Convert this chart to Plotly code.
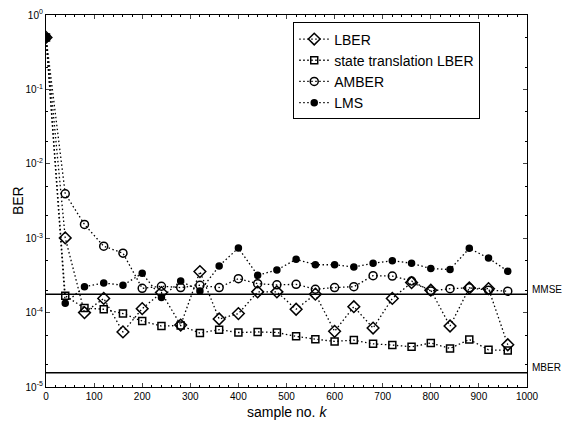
import math
import plotly.graph_objects as go

k = [0, 40, 80, 120, 160, 200, 240, 280, 320, 360, 400, 440, 480, 520,
     560, 600, 640, 680, 720, 760, 800, 840, 880, 920, 960]

lber = [0.5, 1.01e-3, 1.0e-4, 1.55e-4, 5.5e-5, 1.13e-4, 1.86e-4, 6.8e-5, 3.56e-4,
        8.2e-5, 9.7e-5, 1.9e-4, 1.9e-4, 1.11e-4, 1.77e-4, 5.6e-5, 1.2e-4, 6.2e-5,
        1.55e-4, 2.53e-4, 2.0e-4, 6.6e-5, 2.14e-4, 2.1e-4, 3.7e-5]

st_lber = [0.5, 1.68e-4, 1.15e-4, 1.11e-4, 9.7e-5, 7.7e-5, 6.6e-5, 6.7e-5, 5.3e-5,
           5.9e-5, 5.4e-5, 5.5e-5, 5.4e-5, 4.8e-5, 4.4e-5, 4.1e-5, 4.27e-5, 3.8e-5,
           3.66e-5, 3.47e-5, 3.9e-5, 3.3e-5, 4.35e-5, 3.16e-5, 3.1e-5]

amber = [0.5, 3.95e-3, 1.53e-3, 7.8e-4, 6.3e-4, 2.12e-4, 2.26e-4, 2.17e-4, 2.33e-4,
         2.17e-4, 2.86e-4, 2.45e-4, 2.36e-4, 2.4e-4, 2.06e-4, 2.17e-4, 2.23e-4, 3.14e-4,
         3.1e-4, 2.66e-4, 1.95e-4, 2.1e-4, 2.15e-4, 2.0e-4, 1.94e-4]

lms = [0.5, 1.34e-4, 2.23e-4, 2.5e-4, 2.33e-4, 3.37e-4, 1.59e-4, 2.66e-4, 1.95e-4,
       4.23e-4, 7.4e-4, 3.17e-4, 3.74e-4, 5.2e-4, 4.4e-4, 4.4e-4, 4.1e-4, 4.6e-4,
       4.99e-4, 4.6e-4, 3.9e-4, 3.8e-4, 7.3e-4, 5.4e-4, 3.6e-4]

mmse_level = 1.77e-4
mber_level = 1.55e-5

x_ticks = [0, 100, 200, 300, 400, 500, 600, 700, 800, 900, 1000]
y_ticks = [1e-5, 1e-4, 1e-3, 1e-2, 1e-1, 1e0]
y_ticktext = ["10<sup>-5</sup>", "10<sup>-4</sup>", "10<sup>-3</sup>",
              "10<sup>-2</sup>", "10<sup>-1</sup>", "10<sup>0</sup>"]

FONT = "Arial, Liberation Sans, sans-serif"
DOT = "1.5px,2.5px"
fig = go.Figure()

series = [
    ("LBER", lber, "diamond-open", 9),
    ("state translation LBER", st_lber, "square-open", 7),
    ("AMBER", amber, "circle-open", 8),
    ("LMS", lms, "circle", 6),
]
for name, vals, sym, sz in series:
    fig.add_trace(go.Scatter(
        x=k, y=vals, name=name, mode="lines+markers",
        line=dict(color="black", width=1.3, dash=DOT),
        marker=dict(symbol=sym, size=sz, color="black",
                    line=dict(color="black", width=1.5)),
    ))

for lvl in (mmse_level, mber_level):
    fig.add_trace(go.Scatter(
        x=[0, 1000], y=[lvl, lvl], mode="lines", showlegend=False,
        line=dict(color="black", width=1.5), hoverinfo="skip"))

for txt, lvl in (("MMSE", mmse_level), ("MBER", mber_level)):
    fig.add_annotation(x=1.006, xref="paper", y=math.log10(lvl), yref="y",
                       text=txt, showarrow=False, xanchor="left", yshift=5,
                       font=dict(size=10, family=FONT, color="black"))

fig.add_annotation(x=0.5, xref="paper", y=-0.04, yref="paper", yanchor="top",
                   text="sample no. <i>k</i>", showarrow=False,
                   font=dict(size=14, family=FONT, color="black"))
fig.add_annotation(x=-0.058, xref="paper", y=0.5, yref="paper", xanchor="center",
                   text="BER", textangle=-90, showarrow=False,
                   font=dict(size=14, family=FONT, color="black"))

fig.update_layout(
    width=562, height=427,
    margin=dict(l=46, r=35, t=15, b=40),
    paper_bgcolor="white", plot_bgcolor="white",
    font=dict(family=FONT, color="black"),
    legend=dict(x=0.514, y=0.98, xanchor="left", yanchor="top",
                bordercolor="black", borderwidth=1, bgcolor="white",
                font=dict(size=14, family=FONT), tracegroupgap=0,
                itemwidth=30),
    xaxis=dict(range=[0, 1000], tickvals=x_ticks, ticks="inside", ticklen=4,
               showline=True, linecolor="black", linewidth=1.2, mirror="ticks",
               showgrid=False, zeroline=False, automargin=False,
               tickfont=dict(size=10, family=FONT),
               minor=dict(ticks="inside", ticklen=2, dtick=20, tickcolor="black")),
    yaxis=dict(type="log", range=[-5, 0], tickvals=y_ticks, ticktext=y_ticktext,
               ticks="inside", ticklen=4, showline=True, linecolor="black",
               linewidth=1.2, mirror="ticks", showgrid=False, zeroline=False,
               automargin=False,
               tickfont=dict(size=10, family=FONT),
               minor=dict(ticks="inside", ticklen=2, tickcolor="black")),
)

fig.write_html("out.html", config={"displayModeBar": False},
               post_script="document.body.style.margin='0';")
